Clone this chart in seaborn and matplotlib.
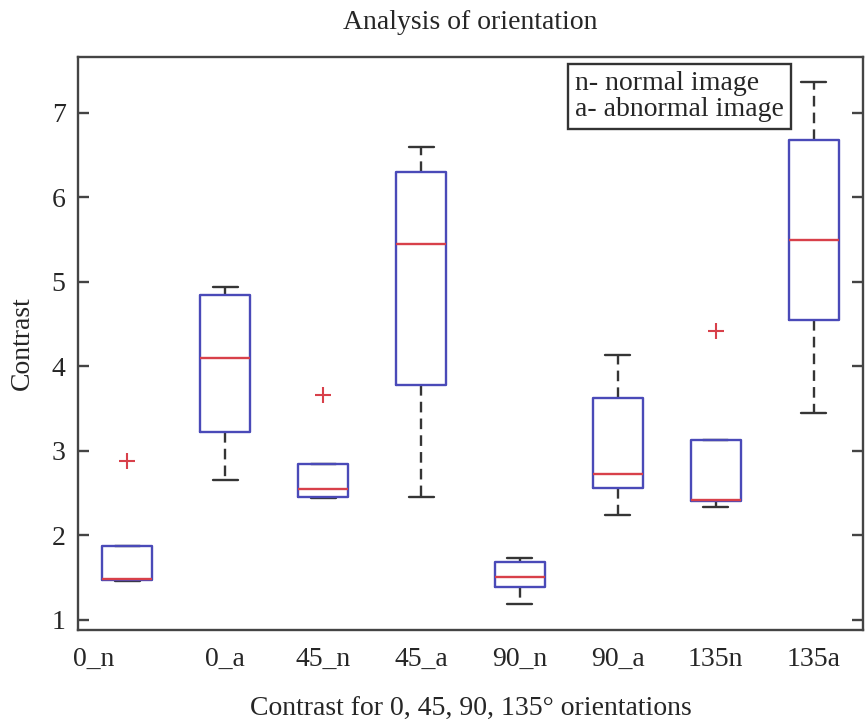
import matplotlib
matplotlib.use("Agg")
import matplotlib.pyplot as plt
import matplotlib.transforms as mtransforms
import numpy as np
import pandas as pd
import seaborn as sns

# ---- data (per-group box statistics) ----
groups = ["0_n", "0_a", "45_n", "45_a", "90_n", "90_a", "135n", "135a"]
whisker_low = [1.46, 2.66, 2.44, 2.45, 1.19, 2.24, 2.33, 3.45]
q1_vals     = [1.47, 3.22, 2.45, 3.78, 1.39, 2.56, 2.41, 4.55]
medians     = [1.48, 4.10, 2.55, 5.45, 1.51, 2.73, 2.42, 5.50]
q3_vals     = [1.87, 4.84, 2.85, 6.30, 1.68, 3.62, 3.13, 6.68]
whisker_high = [1.87, 4.94, 2.85, 6.60, 1.73, 4.13, 3.13, 7.37]
outliers    = [2.88, None, 3.66, None, None, None, 4.42, None]

yticks = [1, 2, 3, 4, 5, 6, 7]
title = "Analysis of orientation"
xlabel = "Contrast for 0, 45, 90, 135\u00b0 orientations"
ylabel = "Contrast"
note = "n- normal image\na- abnormal image"

# sample of nine observations per group reproducing the read statistics
rows = []
for g, lo, a, m, b, hi, out in zip(groups, whisker_low, q1_vals, medians,
                                   q3_vals, whisker_high, outliers):
    sample = [lo, a, a, m, m, b, b, hi, out if out is not None else hi]
    for v in sample:
        rows.append({"group": g, "value": v})
df = pd.DataFrame(rows)

# ---- style ----
sns.set_style("white")
plt.rcParams["font.family"] = ["Liberation Serif", "DejaVu Serif"]

fig = plt.figure(figsize=(8.67, 7.26), dpi=100)
ax = fig.add_axes([0.090, 0.1322, 0.9054, 0.7893])

box_blue = "#4a4ab8"
med_red = "#d8404a"
dark = "#353535"

sns.boxplot(
    data=df, x="group", y="value", order=groups, ax=ax,
    width=0.51, fill=False, color=box_blue, linewidth=1.7,
    boxprops=dict(color=box_blue, linewidth=1.7, zorder=4),
    medianprops=dict(color=med_red, linewidth=1.7, zorder=5),
    whiskerprops=dict(color=dark, linestyle=(0, (4.5, 2.6)), linewidth=1.7,
                      zorder=2),
    capprops=dict(color=dark, linewidth=1.7, zorder=2),
    flierprops=dict(marker="+", markeredgecolor=med_red, markersize=12,
                    markeredgewidth=1.5),
)

ax.set_xlim(-0.5, 7.5)
ax.set_ylim(0.88, 7.66)
ax.set_yticks(yticks)
ax.set_yticklabels([str(t) for t in yticks])

for s in ax.spines.values():
    s.set_visible(True)
    s.set_color("#444444")
    s.set_linewidth(1.7)

ax.tick_params(axis="y", direction="in", length=8, width=1.7, color="#444444",
               labelsize=20, pad=9, left=True, right=True, labelleft=True)
ax.tick_params(axis="x", length=0, labelsize=20, pad=12)

ax.set_title(title, fontsize=20, pad=20)
ax.set_xlabel(xlabel, fontsize=20, labelpad=18)
ax.set_ylabel(ylabel, fontsize=20, labelpad=12)

# first category label sits further to the left in the reference
offset = mtransforms.ScaledTranslation(-33 / 100, 0, fig.dpi_scale_trans)
lbl = ax.get_xticklabels()[0]
lbl.set_transform(lbl.get_transform() + offset)

ax.text(0.633, 0.975, note, transform=ax.transAxes, ha="left", va="top",
        fontsize=20, linespacing=1.05,
        bbox=dict(boxstyle="square,pad=0.25", facecolor="white",
                  edgecolor="#333333", linewidth=1.7))

fig.savefig("out.png", dpi=100)
